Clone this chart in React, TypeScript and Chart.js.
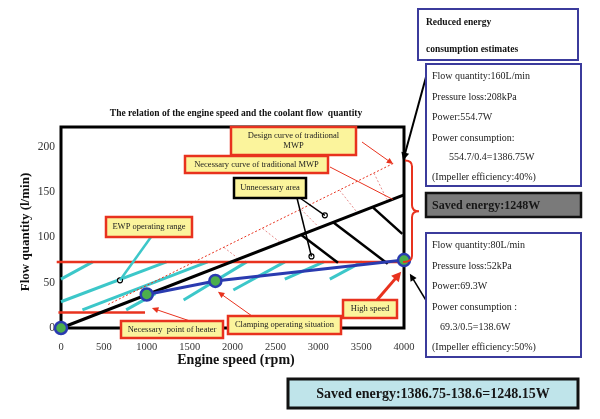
import { useEffect, useRef } from 'react'
import { Chart, registerables } from 'chart.js'
import type { Plugin, ChartConfiguration } from 'chart.js'

Chart.register(...registerables)

const SERIF = '"Liberation Serif", "Times New Roman", serif'
const RED = '#e8321e'
const CYAN = '#3cc7c9'
const BLUE = '#2a3bb0'
const GREEN = '#4cae4c'
const PANEL_BLUE = '#3b3b9c'
const YELLOW = '#fbf49c'

// axes
const speedTicks = [0, 500, 1000, 1500, 2000, 2500, 3000, 3500, 4000]
const flowTicks = [0, 50, 100, 150, 200]

// operating points (rpm, l/min)
const pointSpeeds = [0, 1000, 1800, 4000]
const pointFlows = [0, 37, 52, 75]
const clampSpeeds = [1000, 1800, 4000]
const clampFlows = [37, 52, 75]

// traditional MWP curves
const necessarySpeeds = [0, 4000]
const necessaryFlows = [0, 147]
const designSpeeds = [550, 3880]
const designFlows = [26, 182]

// EWP range limits
const ewpUpperSpeeds = [-50, 4000]
const ewpUpperFlows = [73, 73]
const heaterSpeeds = [-30, 980]
const heaterFlows = [17, 17]

// hatching [x1, y1, x2, y2]
const ewpHatch = [
  [0, 54, 370, 73],
  [0, 29, 1230, 73],
  [250, 20, 1710, 73],
  [760, 20, 1100, 38],
  [1430, 31, 2165, 73],
  [2010, 42, 2610, 73],
  [2610, 54, 3065, 73],
  [3135, 54, 3510, 73],
]
const unnecessaryHatch = [
  [2800, 103, 3230, 72],
  [3170, 117, 3810, 71],
  [3640, 133, 3980, 104],
]
const designHatch = [
  [1900, 89, 2050, 78],
  [2350, 110, 2550, 95],
  [2800, 131, 3000, 112],
  [3250, 152, 3450, 128],
  [3650, 171, 3800, 142],
]

// small pointer dots
const dotSpeeds = [3077, 2921, 688]
const dotFlows = [124.5, 79, 52.7]

const seg = (s: number[], color: string, width: number, dash: number[] = []) => ({
  data: [{ x: s[0], y: s[1] }, { x: s[2], y: s[3] }],
  showLine: true,
  borderColor: color,
  borderWidth: width,
  borderDash: dash,
  pointRadius: 0,
  clip: false as const,
})

const line = (xs: number[], ys: number[], color: string, width: number, dash: number[] = []) => ({
  data: xs.map((x, i) => ({ x, y: ys[i] })),
  showLine: true,
  borderColor: color,
  borderWidth: width,
  borderDash: dash,
  pointRadius: 0,
  clip: false as const,
})

const callouts = [
  { lines: ['Design curve of traditional', 'MWP'], x: 231, y: 127, w: 125, h: 28, border: RED },
  { lines: ['Necessary curve of traditional MWP'], x: 185, y: 156, w: 143, h: 17, border: RED },
  { lines: ['Unnecessary area'], x: 234, y: 178, w: 72, h: 20, border: '#000' },
  { lines: ['EWP operating range'], x: 106, y: 217, w: 86, h: 20, border: RED },
  { lines: ['Necessary  point of heater'], x: 121, y: 321, w: 102, h: 17, border: RED },
  { lines: ['Clamping operating situation'], x: 228, y: 316, w: 113, h: 18, border: RED },
  { lines: ['High speed'], x: 343, y: 300, w: 54, h: 18, border: RED },
]

// pixel start -> data target
const pointers = [
  { from: [362, 142], to: [3874, 181], color: RED, width: 1, head: true },
  { from: [330, 167], to: [3870, 142], color: RED, width: 1, head: false },
  { from: [193, 322], to: [1060, 22], color: RED, width: 1, head: true },
  { from: [252, 316], to: [1830, 40], color: RED, width: 1, head: true },
  { from: [377, 300], to: [3967, 62], color: RED, width: 3, head: true },
  { from: [300, 198], to: [3077, 124.5], color: '#000', width: 1.5, head: false },
  { from: [297, 198], to: [2921, 79], color: '#000', width: 1.5, head: false },
  { from: [151, 237], to: [688, 52.7], color: CYAN, width: 2.5, head: false },
  { from: [426, 77], to: [3990, 185], color: '#000', width: 2, head: true },
  { from: [427, 302], to: [4068, 60], color: '#000', width: 1.5, head: true },
]

const highBox = ['Flow quantity:160L/min', 'Pressure loss:208kPa', 'Power:554.7W', 'Power consumption:', '554.7/0.4=1386.75W', '(Impeller efficiency:40%)']
const lowBox = ['Flow quantity:80L/min', 'Pressure loss:52kPa', 'Power:69.3W', 'Power consumption :', '69.3/0.5=138.6W', '(Impeller efficiency:50%)']

const arrow = (ctx: CanvasRenderingContext2D, x1: number, y1: number, x2: number, y2: number, color: string, width: number, head: boolean) => {
  ctx.save()
  ctx.strokeStyle = color
  ctx.fillStyle = color
  ctx.lineWidth = width
  const ang = Math.atan2(y2 - y1, x2 - x1)
  const hl = head ? 5 + width * 1.5 : 0
  ctx.beginPath()
  ctx.moveTo(x1, y1)
  ctx.lineTo(x2 - Math.cos(ang) * hl * 0.8, y2 - Math.sin(ang) * hl * 0.8)
  ctx.stroke()
  if (head) {
    const hw = 2 + width
    ctx.beginPath()
    ctx.moveTo(x2, y2)
    ctx.lineTo(x2 - Math.cos(ang) * hl - Math.sin(ang) * hw, y2 - Math.sin(ang) * hl + Math.cos(ang) * hw)
    ctx.lineTo(x2 - Math.cos(ang) * hl + Math.sin(ang) * hw, y2 - Math.sin(ang) * hl - Math.cos(ang) * hw)
    ctx.closePath()
    ctx.fill()
  }
  ctx.restore()
}

const rect = (ctx: CanvasRenderingContext2D, x: number, y: number, w: number, h: number, fill: string, stroke: string, lw: number) => {
  ctx.fillStyle = fill
  ctx.fillRect(x, y, w, h)
  ctx.strokeStyle = stroke
  ctx.lineWidth = lw
  ctx.strokeRect(x, y, w, h)
}

const overlay: Plugin<'scatter'> = {
  id: 'overlay',
  beforeDatasetsDraw(chart) {
    const { ctx, chartArea: a } = chart
    ctx.save()
    ctx.strokeStyle = '#000'
    ctx.lineWidth = 3
    ctx.strokeRect(a.left, a.top, a.right - a.left, a.bottom - a.top)
    ctx.restore()
  },
  afterDatasetsDraw(chart) {
    const { ctx, chartArea: a } = chart
    const sx = chart.scales.x
    const sy = chart.scales.y
    ctx.save()

    // title and axis titles
    ctx.fillStyle = '#111'
    ctx.textAlign = 'center'
    ctx.textBaseline = 'middle'
    ctx.font = `bold 9.5px ${SERIF}`
    ctx.fillText('The relation of the engine speed and the coolant flow  quantity', 236, 114)
    ctx.font = `bold 14px ${SERIF}`
    ctx.fillText('Engine speed (rpm)', 236, 360)
    ctx.save()
    ctx.translate(26, 232)
    ctx.rotate(-Math.PI / 2)
    ctx.font = `bold 13px ${SERIF}`
    ctx.fillText('Flow quantity (l/min)', 0, 0)
    ctx.restore()

    // brace
    const top = sy.getPixelForValue(185)
    const bot = sy.getPixelForValue(73)
    const mid = (top + bot) / 2
    const bx = a.right + 8
    ctx.strokeStyle = RED
    ctx.lineWidth = 2
    ctx.beginPath()
    ctx.moveTo(a.right + 1, top)
    ctx.quadraticCurveTo(bx, top, bx, top + 6)
    ctx.lineTo(bx, mid - 6)
    ctx.quadraticCurveTo(bx, mid, bx + 7, mid)
    ctx.quadraticCurveTo(bx, mid, bx, mid + 6)
    ctx.lineTo(bx, bot - 6)
    ctx.quadraticCurveTo(bx, bot, a.right - 1, bot)
    ctx.stroke()

    // pointers
    pointers.forEach(p => {
      arrow(ctx, p.from[0], p.from[1], sx.getPixelForValue(p.to[0]), sy.getPixelForValue(p.to[1]), p.color, p.width, p.head)
    })

    // callout boxes
    ctx.font = `8.5px ${SERIF}`
    callouts.forEach(c => {
      rect(ctx, c.x, c.y, c.w, c.h, YELLOW, c.border, 2.5)
      ctx.fillStyle = '#222'
      const lh = 10.5
      c.lines.forEach((t, i) => {
        ctx.fillText(t, c.x + c.w / 2, c.y + c.h / 2 + (i - (c.lines.length - 1) / 2) * lh)
      })
    })

    // right panel
    ctx.textAlign = 'left'
    rect(ctx, 418, 9, 160, 51, '#fff', PANEL_BLUE, 2)
    ctx.fillStyle = '#111'
    ctx.font = `bold 9.5px ${SERIF}`
    ctx.fillText('Reduced energy', 426, 23)
    ctx.fillText('consumption estimates', 426, 50)

    const infoBox = (y: number, h: number, rows: number[], lines: string[], indent: number) => {
      rect(ctx, 426, y, 155, h, '#fff', PANEL_BLUE, 2)
      ctx.fillStyle = '#222'
      ctx.font = `10px ${SERIF}`
      lines.forEach((t, i) => ctx.fillText(t, i === 4 ? indent : 432, rows[i]))
    }
    infoBox(64, 122, [76, 97, 117, 138, 157, 177], highBox, 449)
    infoBox(233, 124, [245, 266, 286, 307, 327, 347], lowBox, 440)

    rect(ctx, 426, 193, 155, 24, '#7a7a7a', '#111', 2.5)
    ctx.fillStyle = '#161616'
    ctx.font = `bold 12px ${SERIF}`
    ctx.fillText('Saved energy:1248W', 432, 205.5)

    rect(ctx, 288, 379, 290, 29, '#bfe4ea', '#111', 3)
    ctx.fillStyle = '#161616'
    ctx.textAlign = 'center'
    ctx.font = `bold 14px ${SERIF}`
    ctx.fillText('Saved energy:1386.75-138.6=1248.15W', 433, 394)

    ctx.restore()
  },
}

export default function App() {
  const canvasRef = useRef<HTMLCanvasElement>(null)

  useEffect(() => {
    if (!canvasRef.current) return

    const datasets = [
      {
        data: dotSpeeds.map((x, i) => ({ x, y: dotFlows[i] })),
        pointRadius: 2.5,
        pointBackgroundColor: '#fff',
        pointBorderColor: '#000',
        pointBorderWidth: 1.2,
        showLine: false,
        clip: false as const,
      },
      {
        data: pointSpeeds.map((x, i) => ({ x, y: pointFlows[i] })),
        pointRadius: 6,
        pointBackgroundColor: GREEN,
        pointBorderColor: BLUE,
        pointBorderWidth: 2.5,
        showLine: false,
        clip: false as const,
      },
      line(clampSpeeds, clampFlows, BLUE, 3),
      ...unnecessaryHatch.map(s => seg(s, '#000', 2.5)),
      line(necessarySpeeds, necessaryFlows, '#000', 3),
      line(ewpUpperSpeeds, ewpUpperFlows, RED, 2.5),
      line(heaterSpeeds, heaterFlows, RED, 2.5),
      line(designSpeeds, designFlows, RED, 1, [2, 2]),
      ...designHatch.map(s => seg(s, '#e07070', 0.8, [2, 2])),
      ...ewpHatch.map(s => seg(s, CYAN, 3)),
    ]

    const config: ChartConfiguration<'scatter'> = {
      type: 'scatter',
      data: { datasets },
      options: {
        animation: false,
        responsive: true,
        maintainAspectRatio: false,
        layout: { padding: { top: 127, right: 196, left: 0, bottom: 0 } },
        plugins: { legend: { display: false }, tooltip: { enabled: false }, title: { display: false } },
        scales: {
          x: {
            type: 'linear',
            min: 0,
            max: 4000,
            afterFit: s => { s.height = 91 },
            afterBuildTicks: s => { s.ticks = speedTicks.map(value => ({ value })) },
            grid: { display: false, drawTicks: false },
            border: { display: false },
            ticks: {
              padding: 13,
              color: '#333',
              font: { family: SERIF, size: 10.5 },
              maxRotation: 0,
              autoSkip: false,
              callback: v => String(v),
            },
          },
          y: {
            type: 'linear',
            min: 0,
            max: 222,
            afterFit: s => { s.width = 61 },
            afterBuildTicks: s => { s.ticks = flowTicks.map(value => ({ value })) },
            grid: { display: false, drawTicks: false },
            border: { display: false },
            ticks: { padding: 6, color: '#333', font: { family: SERIF, size: 11.5 }, callback: v => String(v) },
          },
        },
      },
      plugins: [overlay],
    }

    const chart = new Chart(canvasRef.current, config)
    return () => {
      chart.destroy()
    }
  }, [])

  return (
    <div style={{ position: 'fixed', left: 0, top: 0, width: 600, height: 419, background: '#fff' }}>
      <canvas ref={canvasRef} />
    </div>
  )
}
